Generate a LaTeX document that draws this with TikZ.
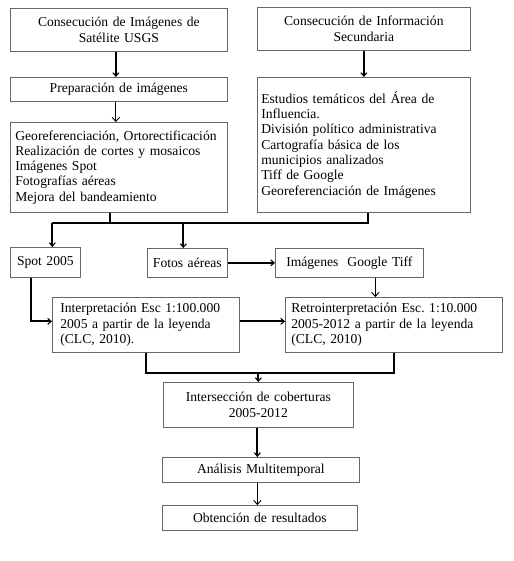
\documentclass[tikz,border=0pt]{standalone}
\usepackage{fontspec}
\setmainfont{Liberation Serif}
\usetikzlibrary{arrows.meta}
\frenchspacing
\begin{document}
\begin{tikzpicture}[x=1pt,y=-1pt,
  box/.style={draw=black!60, line width=0.7pt, anchor=north west, inner xsep=5pt, inner ysep=0pt,
    font=\fontsize{13.6}{15.3}\selectfont},
  thk/.style={line width=1.8pt, black},
  thn/.style={line width=0.9pt, black},
  thka/.style={thk, -{Straight Barb[length=3.5pt,width=6pt,line width=1.1pt]}},
  thna/.style={thn, -{Straight Barb[length=4pt,width=7.5pt]}}]
\useasboundingbox (0,0) rectangle (513,561);
% left column
\node[box, minimum width=217pt, minimum height=43pt, text width=207pt, align=center] (b1) at (10,8) {Consecución de Imágenes de\\Satélite USGS};
\node[box, minimum width=217pt, minimum height=24pt, text width=207pt, align=center] (b2) at (10,77) {Preparación de imágenes};
\node[box, minimum width=217pt, minimum height=90pt, text width=207pt, align=left] (b3) at (10,122) {Georeferenciación, Ortorectificación\\Realización de cortes y mosaicos\\Imágenes Spot\\Fotografías aéreas\\Mejora del bandeamiento};
% right column
\node[box, minimum width=213pt, minimum height=43pt, text width=203pt, align=center] (rA) at (257,7) {Consecución de Información\\Secundaria};
\node[box, minimum width=213pt, minimum height=135pt, text width=205pt, inner xsep=4pt, align=left] (rB) at (257,77) {Estudios temáticos del Área de\\Influencia.\\División político administrativa\\Cartografía básica de los\\municipios analizados\\Tiff de Google\\Georeferenciación de Imágenes};
% middle row
\node[box, minimum width=70pt, minimum height=30pt, text width=64pt, inner xsep=3pt, align=center] (spot) at (10,247) {Spot 2005};
\node[box, minimum width=80pt, minimum height=29pt, text width=76pt, inner xsep=2pt, align=center] (fotos) at (147,248) {Fotos aéreas};
\node[box, minimum width=148pt, minimum height=29pt, text width=138pt, align=center] (gt) at (275,248) {Imágenes\ \ Google Tiff};
\node[box, minimum width=187pt, minimum height=55pt, text width=171pt, inner xsep=8pt, align=left] (interp) at (52,297) {Interpretación Esc 1:100.000\\2005 a partir de la leyenda\\(CLC, 2010).};
\node[box, minimum width=217pt, minimum height=55pt, text width=205pt, inner xsep=6pt, align=left] (retro) at (285,297) {Retrointerpretación Esc. 1:10.000\\2005-2012 a partir de la leyenda\\(CLC, 2010)};
% bottom column
\node[box, minimum width=190pt, minimum height=45pt, text width=180pt, align=center] (inter) at (163,382) {Intersección de coberturas\\2005-2012};
\node[box, minimum width=197pt, minimum height=25pt, text width=187pt, align=center] (anal) at (162,457) {Análisis Multitemporal};
\node[box, minimum width=195pt, minimum height=25pt, text width=185pt, align=center] (obt) at (162,505) {Obtención de resultados};
% connectors
\coordinate (hy) at (0,223);
\coordinate (ly) at (0,373);
\draw[thka] ([xshift=-3pt]b1.south) -- ([xshift=-3pt]b2.north);
\draw[thna] ([xshift=-3pt]b2.south) -- ([xshift=-3pt]b3.north);
\draw[thka] (rA.south) -- (rA.south |- rB.north);
\draw[thk] ([xshift=-8.5pt]b3.south) -- ([xshift=-8.5pt]b3.south |- hy);
\draw[thk] ([xshift=7pt]spot.north |- hy) -- ([xshift=4.5pt]rB.south |- hy) -- ([xshift=4.5pt]rB.south);
\draw[thka] ([xshift=7pt]spot.north |- hy) -- ([xshift=7pt]spot.north);
\draw[thka] ([xshift=-4pt]fotos.north |- hy) -- ([xshift=-4pt]fotos.north);
\draw[thka] (fotos.east) -- (fotos.east -| gt.west);
\draw[thna] ([xshift=26pt]gt.south) -- ([xshift=26pt]gt.south |- retro.north);
\draw[thka] ([xshift=-14pt]spot.south) |- ([yshift=3.5pt]interp.west);
\draw[thka] ([yshift=3.5pt]interp.east) -- ([yshift=3.5pt]interp.east -| retro.west);
\draw[thk] (interp.south) -- (interp.south |- ly) -- (retro.south |- ly) -- (retro.south);
\draw[thka] (inter.north |- ly) -- (inter.north);
\draw[thka] ([xshift=-1pt]inter.south) -- ([xshift=-1pt]inter.south |- anal.north);
\draw[thna] ([xshift=-1pt]inter.south |- anal.south) -- ([xshift=-1pt]inter.south |- obt.north);
\end{tikzpicture}
\end{document}
